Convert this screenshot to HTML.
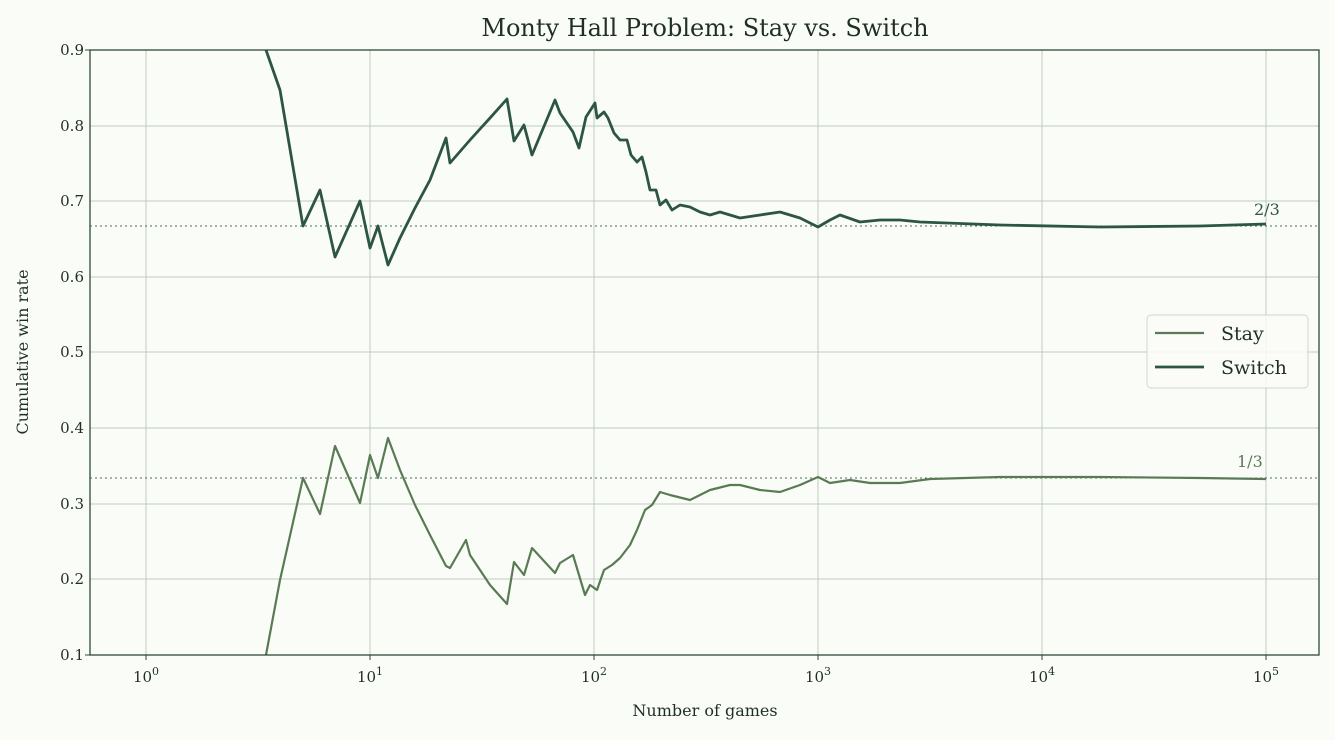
<!DOCTYPE html><html><head><style>body{margin:0;background:#fafcf7}</style></head><body>
<svg width="1335" height="735" xmlns="http://www.w3.org/2000/svg" font-family="DejaVu Serif, Liberation Serif, serif">
<rect width="1335" height="735" fill="#fafcf7"/>
<g stroke="#c0cbbd" stroke-width="1">
<line x1="90" x2="1319" y1="126" y2="126"/><line x1="90" x2="1319" y1="201" y2="201"/><line x1="90" x2="1319" y1="277" y2="277"/><line x1="90" x2="1319" y1="352" y2="352"/><line x1="90" x2="1319" y1="428" y2="428"/><line x1="90" x2="1319" y1="504" y2="504"/><line x1="90" x2="1319" y1="579" y2="579"/>
<line y1="50" y2="655" x1="146" x2="146"/><line y1="50" y2="655" x1="370" x2="370"/><line y1="50" y2="655" x1="594" x2="594"/><line y1="50" y2="655" x1="818" x2="818"/><line y1="50" y2="655" x1="1042" x2="1042"/><line y1="50" y2="655" x1="1266" x2="1266"/>
</g>
<line x1="90" x2="1319" y1="226" y2="226" stroke="#4a6a5a" stroke-dasharray="2,3"/>
<line x1="90" x2="1319" y1="478" y2="478" stroke="#4a6a5a" stroke-dasharray="2,3"/>
<svg x="90" y="50" width="1229" height="605" overflow="hidden"><g transform="translate(-90,-50)">
<polyline fill="none" stroke="#5a7a55" stroke-width="2.2" stroke-linejoin="round" points="266,655 280,580 303,478 320,514 335,446 360,503 370,455 378,478 388,438 400,470 415,505 430,535 446,566 450,568 466,540 470,555 490,585 507,604 514,562 524,575 532,548 555,573 560,563 573,555 585,595 590,585 597,590 604,570 612,565 620,558 630,545 637,530 645,510 652,505 660,492 670,495 690,500 710,490 730,485 740,485 760,490 780,492 800,485 818,477 830,483 850,480 870,483 900,483 930,479 1000,477 1100,477 1200,478 1266,479"/>
<polyline fill="none" stroke="#2d5545" stroke-width="2.8" stroke-linejoin="round" points="262,30 266,50 280,90 303,226 320,190 335,257 360,201 370,248 378,226 388,265 400,238 415,208 430,180 446,138 450,163 470,140 490,118 507,99 514,141 524,125 532,155 555,100 560,113 573,132 579,148 586,117 595,103 597,118 604,112 608,118 614,133 620,140 627,140 631,155 637,162 642,157 646,172 650,190 656,190 660,205 666,200 672,210 680,205 690,207 700,212 710,215 720,212 740,218 760,215 780,212 800,218 818,227 830,220 840,215 860,222 880,220 900,220 920,222 1000,225 1100,227 1200,226 1266,224"/>
</g></svg>
<rect x="90" y="50" width="1229" height="605" fill="none" stroke="#2f4a35" stroke-width="1.3"/>
<text x="1254" y="215" fill="#2d5545" font-size="16">2/3</text>
<text x="1237" y="467" fill="#5a7a55" font-size="16">1/3</text>
<g fill="#1f2f22" font-size="15" text-anchor="end">
<text x="84" y="55">0.9</text><text x="84" y="131">0.8</text><text x="84" y="206">0.7</text><text x="84" y="282">0.6</text><text x="84" y="357">0.5</text><text x="84" y="433">0.4</text><text x="84" y="509">0.3</text><text x="84" y="584">0.2</text><text x="84" y="660">0.1</text>
</g>
<g stroke="#2f4a35"><line x1="85" x2="90" y1="50" y2="50"/><line x1="85" x2="90" y1="655" y2="655"/>
<line x1="146" x2="146" y1="655" y2="660"/><line x1="370" x2="370" y1="655" y2="660"/><line x1="594" x2="594" y1="655" y2="660"/><line x1="818" x2="818" y1="655" y2="660"/><line x1="1042" x2="1042" y1="655" y2="660"/><line x1="1266" x2="1266" y1="655" y2="660"/></g>
<g fill="#1f2f22" font-size="15" text-anchor="middle">
<text x="146" y="682">10<tspan font-size="11" dy="-7">0</tspan></text>
<text x="370" y="682">10<tspan font-size="11" dy="-7">1</tspan></text>
<text x="594" y="682">10<tspan font-size="11" dy="-7">2</tspan></text>
<text x="818" y="682">10<tspan font-size="11" dy="-7">3</tspan></text>
<text x="1042" y="682">10<tspan font-size="11" dy="-7">4</tspan></text>
<text x="1266" y="682">10<tspan font-size="11" dy="-7">5</tspan></text>
<text x="705" y="716" font-size="16">Number of games</text>
<text x="0" y="0" font-size="16" transform="translate(28,352) rotate(-90)">Cumulative win rate</text>
<text x="705" y="36" font-size="24">Monty Hall Problem: Stay vs. Switch</text>
</g>
<rect x="1147" y="315" width="161" height="73" rx="4" fill="#fafcf7" fill-opacity="0.85" stroke="#cfd6cc"/>
<line x1="1155" x2="1204" y1="333" y2="333" stroke="#5a7a55" stroke-width="2.2"/>
<line x1="1155" x2="1204" y1="367" y2="367" stroke="#2d5545" stroke-width="2.8"/>
<text x="1221" y="340" font-size="19" fill="#1f2f22">Stay</text>
<text x="1221" y="374" font-size="19" fill="#1f2f22">Switch</text>
</svg></body></html>
